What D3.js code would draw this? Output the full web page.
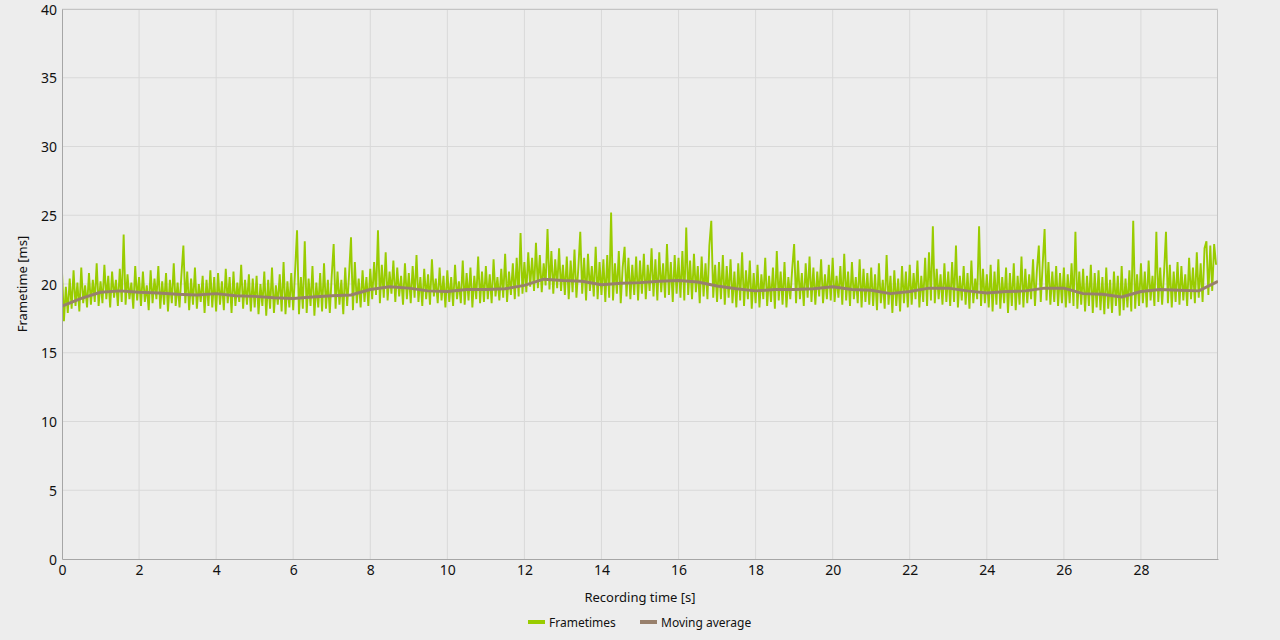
<!doctype html>
<html lang="en">
<head>
    <meta charset="utf-8"/>
    <title>Frametimes</title>
    <script src="https://d3js.org/d3.v7.min.js"></script>
    <style>
        body {
            margin: 0;
            padding: 0;
            background: #ededed;
        }
        svg text {
            font-family: 'Noto Sans', 'Open Sans', sans-serif;
            fill: #111;
        }
    </style>
</head>
<body>
<script>

    // frametimes in ms, one sample every 0.05 s (20 per row = 1 second)
    const frametimes = [
        20.9, 17.3, 19.8, 17.9, 20.4, 18.2, 21.0, 18.4, 20.1, 18.0, 21.2, 18.6, 19.9, 18.3, 20.8, 18.5, 20.3, 18.7, 21.5, 18.4,
        20.2, 18.6, 21.4, 18.9, 20.6, 18.3, 20.9, 19.0, 20.3, 18.4, 21.1, 18.7, 23.6, 18.5, 20.7, 18.9, 20.1, 18.2, 21.3, 18.8,
        20.5, 18.4, 20.9, 18.7, 19.9, 18.1, 21.0, 18.6, 20.4, 18.9, 21.3, 18.2, 20.2, 18.5, 20.8, 18.0, 20.3, 18.6, 21.5, 18.4,
        20.1, 18.3, 20.7, 22.8, 18.6, 20.9, 18.1, 20.4, 18.5, 21.2, 18.2, 20.0, 18.7, 20.6, 17.9, 20.3, 18.4, 21.0, 18.3, 20.5,
        18.0, 20.8, 18.5, 20.2, 18.1, 21.1, 18.6, 20.5, 17.9, 20.9, 18.4, 20.1, 18.7, 21.4, 18.2, 20.3, 18.5, 20.7, 18.0, 20.4,
        18.3, 20.6, 17.8, 20.0, 18.4, 20.9, 17.7, 20.3, 18.2, 21.2, 17.9, 19.9, 18.5, 20.7, 18.0, 21.6, 17.8, 20.2, 18.3, 20.8,
        18.1, 21.0, 23.9, 17.8, 20.5, 18.2, 23.1, 17.9, 20.4, 18.4, 21.3, 17.7, 20.1, 18.3, 20.8, 18.0, 21.5, 18.2, 20.3, 17.9,
        20.6, 22.9, 18.2, 20.9, 18.5, 20.3, 17.8, 21.2, 18.4, 20.7, 23.4, 18.1, 21.6, 18.6, 20.4, 18.3, 21.0, 18.7, 20.5, 18.4,
        21.1, 18.9, 21.6, 19.2, 23.9, 18.6, 21.4, 19.0, 22.3, 18.8, 20.9, 19.3, 21.7, 18.7, 21.2, 19.1, 20.6, 18.5, 21.5, 18.9,
        20.8, 18.6, 21.3, 19.0, 22.1, 18.7, 20.5, 18.4, 21.1, 18.9, 20.7, 18.5, 21.8, 19.1, 20.4, 18.6, 21.2, 18.8, 20.6, 18.3,
        21.0, 18.7, 20.5, 18.4, 21.4, 18.9, 20.2, 18.6, 21.7, 18.5, 20.8, 18.8, 21.2, 18.3, 20.6, 18.9, 22.0, 18.6, 20.9, 18.7,
        21.3, 18.9, 20.7, 18.6, 21.8, 19.1, 20.5, 18.8, 21.1, 19.0, 22.2, 18.7, 20.9, 19.2, 21.5, 18.9, 21.9, 19.1, 23.7, 19.3,
        21.6, 19.4, 22.3, 19.8, 21.9, 19.5, 23.0, 19.7, 22.1, 19.4, 21.5, 19.9, 24.0, 19.6, 22.4, 19.3, 21.8, 19.7, 22.6, 19.5,
        21.4, 19.2, 22.0, 18.9, 21.7, 19.4, 22.5, 19.0, 21.2, 23.8, 19.3, 21.9, 18.8, 22.2, 19.5, 21.3, 19.1, 22.7, 18.9, 21.6,
        19.2, 21.8, 18.7, 22.1, 19.0, 25.2, 18.8, 21.5, 19.3, 22.4, 18.6, 21.2, 22.7, 19.1, 21.9, 18.9, 21.4, 19.2, 22.0, 18.8,
        21.7, 19.3, 22.2, 18.9, 21.4, 19.5, 22.6, 19.1, 21.8, 18.8, 22.3, 19.4, 21.5, 19.0, 22.9, 19.2, 21.6, 18.7, 22.1, 19.3,
        21.9, 19.0, 22.4, 18.8, 24.1, 19.2, 21.7, 18.9, 22.2, 19.4, 21.3, 18.6, 22.0, 19.1, 21.5, 18.9, 22.8, 24.6, 19.0, 21.4,
        18.7, 21.6, 18.9, 22.1, 18.5, 21.3, 19.0, 21.8, 18.6, 20.9, 18.3, 21.5, 18.8, 22.3, 18.4, 21.0, 18.9, 21.7, 18.2, 20.8,
        18.6, 21.4, 18.3, 20.7, 18.9, 21.9, 18.4, 20.6, 18.7, 21.2, 18.2, 22.4, 18.8, 20.9, 18.5, 21.6, 18.3, 20.5, 18.9, 21.1,
        22.9, 18.6, 21.7, 18.9, 20.8, 18.4, 21.5, 19.0, 22.0, 18.7, 21.2, 18.5, 20.9, 19.1, 21.8, 18.6, 20.7, 18.9, 21.4, 18.8,
        21.9, 18.7, 20.6, 19.0, 21.3, 18.5, 22.2, 18.8, 20.9, 18.4, 21.6, 18.9, 20.5, 18.6, 21.8, 18.3, 21.1, 18.7, 20.8, 18.5,
        21.2, 18.4, 20.7, 18.1, 21.5, 18.6, 20.3, 18.2, 22.1, 18.5, 20.6, 17.9, 21.0, 18.4, 20.4, 18.0, 21.3, 18.6, 20.9, 18.3,
        21.4, 18.5, 20.8, 18.9, 21.7, 18.3, 20.6, 18.7, 21.9, 18.4, 22.3, 18.8, 24.2, 18.6, 21.1, 18.9, 20.7, 18.5, 21.5, 18.7,
        20.9, 18.4, 21.6, 18.7, 22.8, 18.3, 20.6, 18.8, 21.3, 18.5, 20.8, 18.2, 21.7, 18.6, 20.4, 18.9, 24.2, 18.4, 21.1, 18.6,
        20.7, 18.3, 21.4, 18.0, 20.9, 18.5, 21.8, 18.2, 20.5, 18.6, 21.2, 17.9, 20.8, 18.4, 21.5, 18.1, 20.6, 18.5, 22.0, 18.3,
        21.1, 18.6, 20.7, 18.9, 21.8, 18.4, 21.0, 22.8, 18.7, 21.4, 24.0, 18.8, 21.6, 18.5, 20.9, 18.7, 21.3, 18.4, 20.8, 18.6,
        21.2, 18.3, 20.7, 18.6, 21.5, 18.4, 23.8, 18.2, 20.9, 18.5, 21.1, 18.0, 20.6, 18.4, 21.4, 17.9, 20.8, 18.3, 21.0, 18.1,
        20.5, 17.8, 21.2, 18.2, 20.3, 17.9, 20.9, 18.4, 20.6, 17.7, 21.3, 18.1, 20.4, 18.3, 21.0, 18.0, 24.6, 18.2, 20.7, 18.4,
        21.5, 18.6, 20.9, 18.3, 21.7, 18.8, 20.6, 18.4, 23.8, 18.7, 21.2, 18.5, 20.8, 23.8, 18.6, 21.4, 18.3, 20.9, 18.7, 21.6,
        18.5, 21.3, 18.8, 20.7, 18.4, 21.9, 18.9, 21.2, 18.6, 22.3, 19.0, 21.5, 18.7, 22.6, 23.1, 19.2, 22.8, 19.5, 22.9, 21.4
    ];
    const frameStep = 0.05;

    // moving average in ms, one value every 0.5 s
    const movingAverage = [
        18.4, 18.95, 19.4, 19.5, 19.4, 19.35, 19.25, 19.2, 19.3, 19.15,
        19.1, 19.0, 18.95, 19.05, 19.15, 19.2, 19.6, 19.8, 19.7, 19.5,
        19.45, 19.6, 19.6, 19.65, 19.9, 20.35, 20.25, 20.2, 19.95, 20.05,
        20.1, 20.2, 20.25, 20.15, 19.85, 19.65, 19.5, 19.6, 19.6, 19.65,
        19.8, 19.6, 19.55, 19.3, 19.45, 19.7, 19.7, 19.5, 19.35, 19.45,
        19.5, 19.7, 19.7, 19.3, 19.25, 19.05, 19.45, 19.6, 19.55, 19.5,
        20.2
    ];
    const avgStep = 0.5;

    const xTicks = [0, 2, 4, 6, 8, 10, 12, 14, 16, 18, 20, 22, 24, 26, 28];
    const yTicks = [0, 5, 10, 15, 20, 25, 30, 35, 40];
    const seriesNames = ['Frametimes', 'Moving average'];
    const seriesColors = ['#99cc00', '#98806c'];

    // area of the plot
    const W = 1280, H = 640;
    const pLeft = 62, pRight = 1218, pTop = 9, pBottom = 559;

    const svg = d3.select('body')
        .append('svg')
        .attr('width', W)
        .attr('height', H)
        .style('display', 'block');

    const x = d3.scaleLinear().domain([0, 30]).range([pLeft, pRight]);
    const y = d3.scaleLinear().domain([0, 40]).range([pBottom, pTop]);

    // grid
    svg.append('g')
        .selectAll('line')
        .data(xTicks.slice(1))
        .join('line')
        .attr('x1', d => x(d)).attr('x2', d => x(d))
        .attr('y1', pTop).attr('y2', pBottom)
        .attr('stroke', '#d9d9d9');

    svg.append('g')
        .selectAll('line')
        .data(yTicks.slice(1))
        .join('line')
        .attr('x1', pLeft).attr('x2', pRight)
        .attr('y1', d => y(d)).attr('y2', d => y(d))
        .attr('stroke', '#d9d9d9');

    // top / right border
    svg.append('path')
        .attr('d', `M${pLeft},${pTop + 0.5}H${pRight - 0.5}V${pBottom}`)
        .attr('fill', 'none')
        .attr('stroke', '#c4c4c4');

    // clip for the series
    svg.append('clipPath').attr('id', 'plot')
        .append('rect')
        .attr('x', pLeft).attr('y', pTop)
        .attr('width', pRight - pLeft).attr('height', pBottom - pTop);

    const frameLine = d3.line()
        .x((d, i) => x(i * frameStep))
        .y(d => y(d));

    svg.append('path')
        .datum(frametimes)
        .attr('clip-path', 'url(#plot)')
        .attr('d', frameLine)
        .attr('fill', 'none')
        .attr('stroke', seriesColors[0])
        .attr('stroke-width', 1.9)
        .attr('stroke-linejoin', 'bevel');

    const avgLine = d3.line()
        .x((d, i) => x(i * avgStep))
        .y(d => y(d));

    svg.append('path')
        .datum(movingAverage)
        .attr('clip-path', 'url(#plot)')
        .attr('d', avgLine)
        .attr('fill', 'none')
        .attr('stroke', seriesColors[1])
        .attr('stroke-width', 3)
        .attr('stroke-linejoin', 'round');

    // axes
    const xAxis = svg.append('g')
        .attr('transform', `translate(0,${pBottom})`)
        .call(d3.axisBottom(x).tickValues(xTicks).tickSize(0).tickPadding(6));
    const yAxis = svg.append('g')
        .attr('transform', `translate(${pLeft},0)`)
        .call(d3.axisLeft(y).tickValues(yTicks).tickSize(0).tickPadding(5));

    [xAxis, yAxis].forEach(a => {
        a.select('.domain').attr('stroke', '#a6a6a6');
        a.selectAll('text')
            .style('font-size', '14px')
            .attr('fill', '#111')
            .attr('font-family', null);
    });
    yAxis.selectAll('text').attr('dy', '0.36em');

    // axis titles
    svg.append('text')
        .attr('x', (pLeft + pRight) / 2)
        .attr('y', 602)
        .attr('text-anchor', 'middle')
        .style('font-size', '13px')
        .text('Recording time [s]');

    svg.append('text')
        .attr('transform', `translate(27,${(pTop + pBottom) / 2}) rotate(-90)`)
        .attr('text-anchor', 'middle')
        .style('font-size', '13px')
        .text('Frametime [ms]');

    // legend
    const legendX = [528, 640];
    const legend = svg.append('g')
        .selectAll('g')
        .data(seriesNames)
        .join('g')
        .attr('transform', (d, i) => `translate(${legendX[i]},622)`);

    legend.append('rect')
        .attr('x', 0).attr('y', -2)
        .attr('width', 17).attr('height', 4)
        .attr('fill', (d, i) => seriesColors[i]);

    legend.append('text')
        .attr('x', 21).attr('y', 4.5)
        .style('font-size', '12px')
        .text(d => d);

</script>
</body>
</html>
